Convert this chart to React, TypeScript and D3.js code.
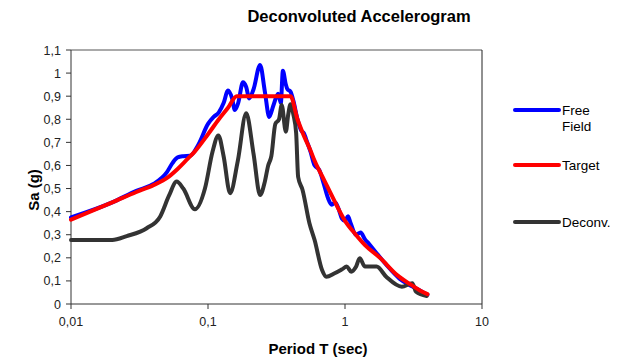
import React from "react";
import * as d3 from "d3";

const xTicks = [0.01, 0.1, 1, 10];
const xTickLabels = ["0,01", "0,1", "1", "10"];
const yTicks = [0, 0.1, 0.2, 0.3, 0.4, 0.5, 0.6, 0.7, 0.8, 0.9, 1, 1.1];
const yTickLabels = ["0", "0,1", "0,2", "0,3", "0,4", "0,5", "0,6", "0,7", "0,8", "0,9", "1", "1,1"];

const freeFieldT = [0.01, 0.02, 0.03, 0.04, 0.05, 0.055, 0.06, 0.066, 0.074, 0.085, 0.1, 0.11, 0.12, 0.13, 0.14, 0.15, 0.157, 0.166, 0.18, 0.19, 0.2, 0.215, 0.24, 0.26, 0.28, 0.3, 0.325, 0.34, 0.352, 0.37, 0.38, 0.4, 0.42, 0.45, 0.48, 0.5, 0.53, 0.56, 0.6, 0.65, 0.7, 0.75, 0.8, 0.85, 0.9, 0.95, 1.0, 1.05, 1.1, 1.2, 1.3, 1.4, 1.5, 1.7, 2.0, 2.5, 3.0, 3.5, 4.0];
const freeFieldSa = [0.375, 0.44, 0.49, 0.52, 0.57, 0.61, 0.635, 0.64, 0.642, 0.69, 0.78, 0.81, 0.83, 0.87, 0.925, 0.89, 0.84, 0.87, 0.96, 0.94, 0.89, 0.93, 1.035, 0.92, 0.81, 0.86, 0.91, 0.87, 1.01, 0.95, 0.93, 0.92, 0.88, 0.8, 0.75, 0.74, 0.7, 0.66, 0.6, 0.58, 0.52, 0.46, 0.43, 0.44, 0.41, 0.37, 0.36, 0.38, 0.35, 0.3, 0.31, 0.28, 0.26, 0.22, 0.17, 0.11, 0.08, 0.06, 0.04];

const targetT = [0.01, 0.02, 0.03, 0.04, 0.05, 0.06, 0.07, 0.08, 0.1, 0.12, 0.14, 0.162, 0.4, 0.45, 0.5, 0.56, 0.6, 0.7, 0.8, 1.0, 1.2, 1.4, 1.8, 2.4, 3.0, 3.5, 4.0];
const targetSa = [0.365, 0.44, 0.485, 0.515, 0.545, 0.585, 0.625, 0.66, 0.735, 0.8, 0.85, 0.9, 0.9, 0.8, 0.73, 0.665, 0.62, 0.54, 0.47, 0.36, 0.3, 0.255, 0.2, 0.125, 0.085, 0.06, 0.043];

const deconvT = [0.01, 0.02, 0.0255, 0.0357, 0.0447, 0.052, 0.059, 0.066, 0.0803, 0.095, 0.108, 0.119, 0.13, 0.145, 0.165, 0.19, 0.215, 0.24, 0.26, 0.275, 0.29, 0.31, 0.33, 0.345, 0.37, 0.385, 0.4, 0.42, 0.44, 0.455, 0.49, 0.55, 0.6, 0.68, 0.73, 0.84, 0.95, 1.03, 1.11, 1.2, 1.28, 1.4, 1.7, 2.0, 2.6, 3.1, 3.3, 3.95];
const deconvSa = [0.277, 0.277, 0.294, 0.328, 0.378, 0.47, 0.53, 0.5, 0.41, 0.5, 0.66, 0.73, 0.64, 0.48, 0.62, 0.826, 0.65, 0.472, 0.53, 0.6, 0.64, 0.78, 0.8, 0.862, 0.746, 0.82, 0.865, 0.82, 0.74, 0.55, 0.494, 0.35, 0.277, 0.147, 0.118, 0.133, 0.15, 0.162, 0.14, 0.16, 0.198, 0.162, 0.162, 0.118, 0.075, 0.09, 0.053, 0.035];

const series = [
  { name: "Free Field", T: freeFieldT, v: freeFieldSa, color: "#0000ff" },
  { name: "Target", T: targetT, v: targetSa, color: "#ff0000" },
  { name: "Deconv.", T: deconvT, v: deconvSa, color: "#333333" },
];

export default function App() {
  const W = 626, H = 363;
  const left = 71, right = 482, top = 50, bottom = 304;
  const x = d3.scaleLog().domain([0.01, 10]).range([left, right]);
  const y = d3.scaleLinear().domain([0, 1.1]).range([bottom, top]);
  const line = d3
    .line<[number, number]>()
    .x((d) => x(d[0]))
    .y((d) => y(d[1]))
    .curve(d3.curveMonotoneX);

  const font = "Arial, 'Liberation Sans', sans-serif";
  const drawOrder = [series[0], series[2], series[1]];

  return (
    <svg width={W} height={H} style={{ position: "absolute", left: 0, top: 0 }} fontFamily={font}>
      <rect x={0} y={0} width={W} height={H} fill="#fff" />
      <text x={359} y={22} textAnchor="middle" fontSize={16.5} fontWeight="bold" fill="#000">
        Deconvoluted Accelerogram
      </text>
      {/* frame */}
      <line x1={left} y1={top} x2={right} y2={top} stroke="#555" strokeWidth={1} />
      <line x1={right} y1={top} x2={right} y2={bottom} stroke="#222" strokeWidth={1} />
      <line x1={left} y1={top} x2={left} y2={bottom} stroke="#333" strokeWidth={1} />
      <line x1={left} y1={bottom} x2={right} y2={bottom} stroke="#333" strokeWidth={1} />
      {yTicks.map((t, i) => (
        <g key={"y" + i}>
          <line x1={left - 5} x2={left} y1={y(t)} y2={y(t)} stroke="#333" />
          <text x={left - 10} y={y(t) + 4.5} textAnchor="end" fontSize={12.5} fill="#222">
            {yTickLabels[i]}
          </text>
        </g>
      ))}
      {xTicks.map((t, i) => (
        <g key={"x" + i}>
          <line x1={x(t)} x2={x(t)} y1={bottom} y2={bottom + 5} stroke="#333" />
          <text x={x(t)} y={bottom + 22} textAnchor="middle" fontSize={12.5} fill="#222">
            {xTickLabels[i]}
          </text>
        </g>
      ))}
      <text
        transform={`translate(39,190) rotate(-90)`}
        textAnchor="middle"
        fontSize={15}
        fontWeight="bold"
        fill="#000"
      >
        Sa (g)
      </text>
      <text x={318} y={354} textAnchor="middle" fontSize={15} fontWeight="bold" fill="#000">
        Period T (sec)
      </text>
      {drawOrder.map((s) => (
        <path
          key={s.name}
          d={line(s.T.map((t, i) => [t, s.v[i]] as [number, number])) || ""}
          fill="none"
          stroke={s.color}
          strokeWidth={4}
          strokeLinejoin="round"
          strokeLinecap="round"
        />
      ))}
      {/* legend */}
      {series.map((s, i) => {
        const ly = [110, 165, 222][i];
        return (
          <g key={"lg" + i}>
            <line x1={515} x2={559} y1={ly} y2={ly} stroke={s.color} strokeWidth={4} strokeLinecap="round" />
            {s.name === "Free Field" ? (
              <text x={562} y={ly + 5} fontSize={13.5} fill="#000">
                <tspan x={562}>Free</tspan>
                <tspan x={562} dy={16}>Field</tspan>
              </text>
            ) : (
              <text x={562} y={ly + 5} fontSize={13.5} fill="#000">
                {s.name}
              </text>
            )}
          </g>
        );
      })}
    </svg>
  );
}
